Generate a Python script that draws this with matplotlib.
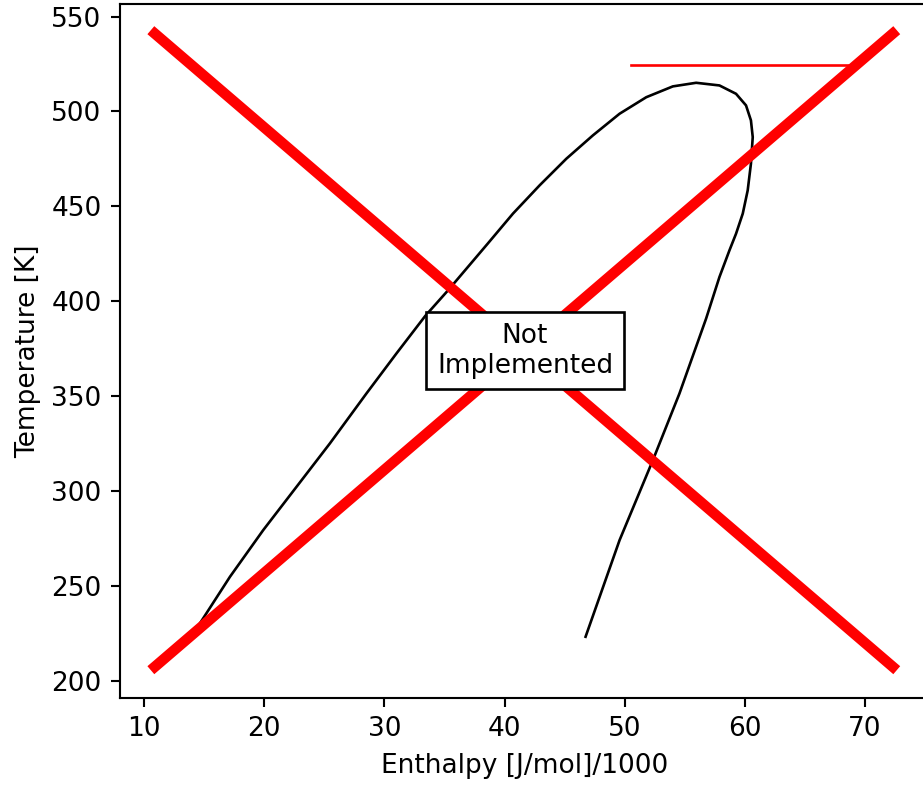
import matplotlib.pyplot as plt
import matplotlib

matplotlib.rcParams['font.family'] = ['DejaVu Sans']

# saturation dome (enthalpy/1000, temperature)
enthalpy = [13.95, 14.38, 17.15, 19.92, 22.69, 25.46, 28.5, 31.0, 33.4, 35.3,
            38.6, 40.70, 42.92, 45.14, 47.35, 49.57, 51.79, 54.0, 55.94,
            57.88, 59.26, 60.09, 60.5, 60.65, 60.5, 60.23, 59.82, 59.26, 58.71,
            57.88, 56.77, 54.55, 52.34, 49.57, 46.74]
temperature = [223.3, 227.7, 254.9, 279.5, 302.3, 325.1, 351.4, 372.5, 392.3, 405.8,
               430.4, 446.2, 461.1, 475.1, 487.4, 498.8, 507.5, 513.2, 515.1,
               513.7, 509.3, 503.2, 495.3, 486.5, 472.5, 458.4, 446.2, 435.6, 426.8,
               412.8, 390.9, 351.4, 316.3, 274.2, 223.3]

# red cross
cross_h = [10.9, 72.3]
cross_t_up = [207.5, 541.0]
cross_t_down = [541.0, 207.5]

# red horizontal line
hline_t = 524.7
hline_h = [50.54, 68.96]

dpi = 190
fig = plt.figure(figsize=(923 / dpi, 791 / dpi), dpi=dpi)
ax = fig.add_axes([120 / 923, 1 - 697.7 / 791, 810 / 923, 693.7 / 791])

ax.plot(enthalpy, temperature, color='black', lw=1)
ax.plot(cross_h, cross_t_up, color='red', lw=4)
ax.plot(cross_h, cross_t_down, color='red', lw=4)
ax.plot(hline_h, [hline_t, hline_t], color='red', lw=1)

ax.text(0.5, 0.5, 'Not\nImplemented', transform=ax.transAxes,
        ha='center', va='center',
        bbox=dict(facecolor='white', edgecolor='black'))

ax.set_xlim(8.0, 75.4)
ax.set_ylim(191.2, 556.6)
ax.set_xlabel('Enthalpy [J/mol]/1000')
ax.set_ylabel('Temperature [K]')

fig.savefig('out.png', dpi=dpi)
